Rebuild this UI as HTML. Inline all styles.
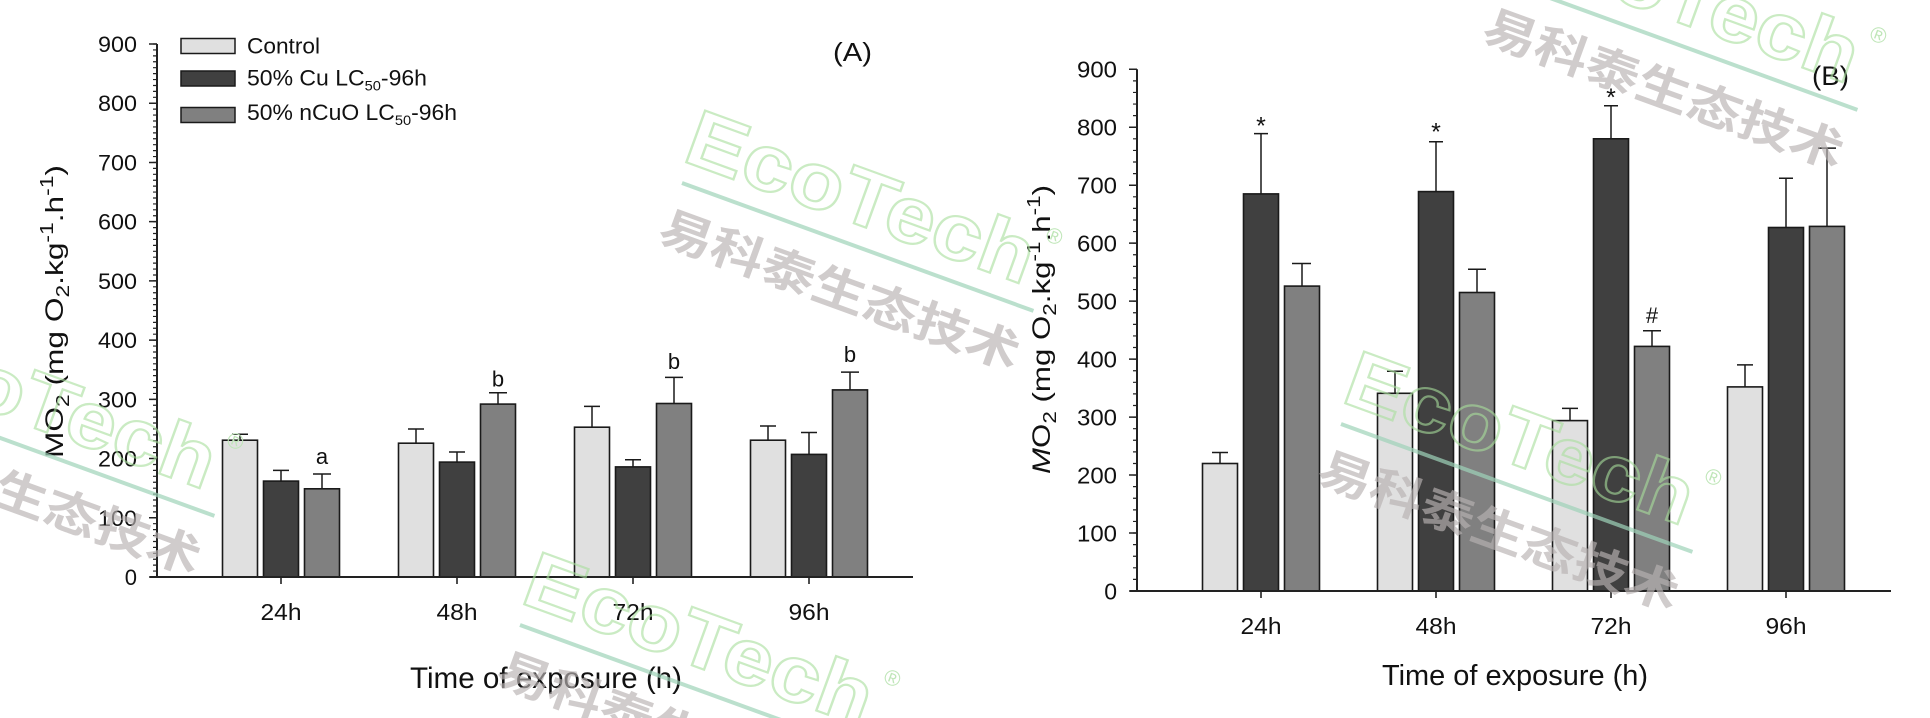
<!DOCTYPE html>
<html>
<head>
<meta charset="utf-8">
<style>
  html,body{margin:0;padding:0;background:#fff;}
  body{width:1930px;height:718px;overflow:hidden;}
  svg{display:block;}
  text{font-family:"Liberation Sans","Noto Sans CJK SC",sans-serif;fill:#111;}
  .cn{font-family:"Liberation Sans","Noto Sans CJK SC",sans-serif;}
</style>
</head>
<body>
<svg width="1930" height="718" viewBox="0 0 1930 718" xmlns="http://www.w3.org/2000/svg">
<defs><clipPath id="frame"><rect x="0" y="0" width="1930" height="718"/></clipPath></defs>
<rect x="0" y="0" width="1930" height="718" fill="#fff"/>

<!-- ================= PANEL A ================= -->
<g stroke="#1a1a1a" stroke-width="1.6">
  <rect x="222.5" y="440.2" width="35" height="136.8" fill="#e0e0e0"/>
  <rect x="263.5" y="481.1" width="35" height="95.9" fill="#404040"/>
  <rect x="304.5" y="488.8" width="35" height="88.2" fill="#808080"/>
  <rect x="398.5" y="443.2" width="35" height="133.8" fill="#e0e0e0"/>
  <rect x="439.5" y="462.1" width="35" height="114.9" fill="#404040"/>
  <rect x="480.5" y="404.1" width="35" height="172.9" fill="#808080"/>
  <rect x="574.5" y="427.2" width="35" height="149.8" fill="#e0e0e0"/>
  <rect x="615.5" y="466.9" width="35" height="110.1" fill="#404040"/>
  <rect x="656.5" y="403.5" width="35" height="173.5" fill="#808080"/>
  <rect x="750.5" y="440.2" width="35" height="136.8" fill="#e0e0e0"/>
  <rect x="791.5" y="454.4" width="35" height="122.6" fill="#404040"/>
  <rect x="832.5" y="389.9" width="35" height="187.1" fill="#808080"/>
</g>
<g stroke="#1a1a1a" stroke-width="1.5" fill="none">
  <path d="M240,440.2V434.3M232,434.3H248"/>
  <path d="M281,481.1V470.4M273,470.4H289"/>
  <path d="M322,488.8V474.0M313,474.0H331"/>
  <path d="M416,443.2V429.0M408,429.0H424"/>
  <path d="M457,462.1V452.0M449,452.0H465"/>
  <path d="M498,404.1V392.8M489,392.8H507"/>
  <path d="M592,427.2V406.4M584,406.4H600"/>
  <path d="M633,466.9V459.7M625,459.7H641"/>
  <path d="M674,403.5V377.4M665,377.4H683"/>
  <path d="M768,440.2V426.0M760,426.0H776"/>
  <path d="M809,454.4V432.5M801,432.5H817"/>
  <path d="M850,389.9V372.1M841,372.1H859"/>
</g>
<g stroke="#222" fill="none">
  <line x1="157" y1="44" x2="157" y2="578" stroke-width="2"/>
  <line x1="150" y1="577" x2="913" y2="577" stroke-width="2"/>
  <line x1="155" y1="577.6" x2="155" y2="43.4" stroke-width="4" stroke-dasharray="1.2 4.722"/>
  <line x1="153" y1="577.75" x2="153" y2="43" stroke-width="8" stroke-dasharray="1.5 57.72"/>
  <path d="M281,577V584M457,577V584M633,577V584M809,577V584" stroke-width="1.6"/>
</g>
<g font-size="22" text-anchor="end">
  <text x="137" y="52" textLength="39" lengthAdjust="spacingAndGlyphs">900</text>
  <text x="137" y="111.2" textLength="39" lengthAdjust="spacingAndGlyphs">800</text>
  <text x="137" y="170.5" textLength="39" lengthAdjust="spacingAndGlyphs">700</text>
  <text x="137" y="229.7" textLength="39" lengthAdjust="spacingAndGlyphs">600</text>
  <text x="137" y="288.9" textLength="39" lengthAdjust="spacingAndGlyphs">500</text>
  <text x="137" y="348.1" textLength="39" lengthAdjust="spacingAndGlyphs">400</text>
  <text x="137" y="407.3" textLength="39" lengthAdjust="spacingAndGlyphs">300</text>
  <text x="137" y="466.6" textLength="39" lengthAdjust="spacingAndGlyphs">200</text>
  <text x="137" y="525.8" textLength="39" lengthAdjust="spacingAndGlyphs">100</text>
  <text x="137" y="585">0</text>
</g>
<g font-size="23" text-anchor="middle">
  <text x="281" y="620" textLength="41" lengthAdjust="spacingAndGlyphs">24h</text>
  <text x="457" y="620" textLength="41" lengthAdjust="spacingAndGlyphs">48h</text>
  <text x="633" y="620" textLength="41" lengthAdjust="spacingAndGlyphs">72h</text>
  <text x="809" y="620" textLength="41" lengthAdjust="spacingAndGlyphs">96h</text>
</g>
<text x="410" y="688" font-size="30" textLength="272" lengthAdjust="spacingAndGlyphs">Time of exposure (h)</text>
<text transform="translate(63,458) rotate(-90)" font-size="25" textLength="293" lengthAdjust="spacingAndGlyphs">MO<tspan font-size="18" dy="6">2</tspan><tspan dy="-6"> (mg O</tspan><tspan font-size="18" dy="6">2</tspan><tspan dy="-6">.kg</tspan><tspan font-size="18" dy="-10">-1</tspan><tspan dy="10">.h</tspan><tspan font-size="18" dy="-10">-1</tspan><tspan dy="10">)</tspan></text>
<g font-size="22" text-anchor="middle">
  <text x="322" y="464">a</text>
  <text x="498" y="386.7">b</text>
  <text x="674" y="369.2">b</text>
  <text x="850" y="362">b</text>
</g>
<text x="833" y="61" font-size="26" textLength="39" lengthAdjust="spacingAndGlyphs">(A)</text>
<g stroke="#1a1a1a" stroke-width="1.5">
  <rect x="181" y="38.5" width="54" height="15" fill="#e0e0e0"/>
  <rect x="181" y="71" width="54" height="15" fill="#404040"/>
  <rect x="181" y="107.5" width="54" height="15" fill="#808080"/>
</g>
<g font-size="22">
  <text x="247" y="53.3" textLength="73" lengthAdjust="spacingAndGlyphs">Control</text>
  <text x="247" y="85.7" textLength="180" lengthAdjust="spacingAndGlyphs">50% Cu LC<tspan font-size="14" dy="5">50</tspan><tspan dy="-5">-96h</tspan></text>
  <text x="247" y="120" textLength="210" lengthAdjust="spacingAndGlyphs">50% nCuO LC<tspan font-size="14" dy="5">50</tspan><tspan dy="-5">-96h</tspan></text>
</g>

<!-- ================= PANEL B ================= -->
<g stroke="#1a1a1a" stroke-width="1.6">
  <rect x="1202.5" y="463.5" width="35" height="127.5" fill="#e0e0e0"/>
  <rect x="1243.5" y="193.9" width="35" height="397.1" fill="#404040"/>
  <rect x="1284.5" y="286.1" width="35" height="304.9" fill="#808080"/>
  <rect x="1377.5" y="393.3" width="35" height="197.7" fill="#e0e0e0"/>
  <rect x="1418.5" y="191.6" width="35" height="399.4" fill="#404040"/>
  <rect x="1459.5" y="292.5" width="35" height="298.5" fill="#808080"/>
  <rect x="1552.5" y="420.6" width="35" height="170.4" fill="#e0e0e0"/>
  <rect x="1593.5" y="138.8" width="35" height="452.2" fill="#404040"/>
  <rect x="1634.5" y="346.4" width="35" height="244.6" fill="#808080"/>
  <rect x="1727.5" y="386.9" width="35" height="204.1" fill="#e0e0e0"/>
  <rect x="1768.5" y="227.5" width="35" height="363.5" fill="#404040"/>
  <rect x="1809.5" y="226.4" width="35" height="364.6" fill="#808080"/>
</g>
<g stroke="#1a1a1a" stroke-width="1.5" fill="none">
  <path d="M1220,463.5V452.5M1212,452.5H1228"/>
  <path d="M1261,193.9V133.6M1254,133.6H1268"/>
  <path d="M1302,286.1V263.5M1292,263.5H1311"/>
  <path d="M1395,393.3V371.3M1387,371.3H1403"/>
  <path d="M1436,191.6V141.7M1429,141.7H1443"/>
  <path d="M1477,292.5V269.3M1468,269.3H1486"/>
  <path d="M1570,420.6V408.4M1562,408.4H1578"/>
  <path d="M1611,138.8V105.8M1604,105.8H1618"/>
  <path d="M1652,346.4V330.7M1643,330.7H1661"/>
  <path d="M1745,386.9V364.9M1737,364.9H1753"/>
  <path d="M1786,227.5V178.3M1779,178.3H1793"/>
  <path d="M1827,226.4V148.1M1818,148.1H1836"/>
</g>
<g stroke="#222" fill="none">
  <line x1="1137" y1="69.3" x2="1137" y2="592" stroke-width="2"/>
  <line x1="1130" y1="591" x2="1891" y2="591" stroke-width="2"/>
  <line x1="1135" y1="591.6" x2="1135" y2="68.6" stroke-width="4" stroke-dasharray="1.2 10.394"/>
  <line x1="1133" y1="591.75" x2="1133" y2="68.5" stroke-width="8" stroke-dasharray="1.5 56.47"/>
  <path d="M1261,591V598M1436,591V598M1611,591V598M1786,591V598" stroke-width="1.6"/>
</g>
<g font-size="23" text-anchor="end">
  <text x="1117" y="77.6" textLength="40" lengthAdjust="spacingAndGlyphs">900</text>
  <text x="1117" y="135.5" textLength="40" lengthAdjust="spacingAndGlyphs">800</text>
  <text x="1117" y="193.5" textLength="40" lengthAdjust="spacingAndGlyphs">700</text>
  <text x="1117" y="251.5" textLength="40" lengthAdjust="spacingAndGlyphs">600</text>
  <text x="1117" y="309.5" textLength="40" lengthAdjust="spacingAndGlyphs">500</text>
  <text x="1117" y="367.4" textLength="40" lengthAdjust="spacingAndGlyphs">400</text>
  <text x="1117" y="425.4" textLength="40" lengthAdjust="spacingAndGlyphs">300</text>
  <text x="1117" y="483.4" textLength="40" lengthAdjust="spacingAndGlyphs">200</text>
  <text x="1117" y="541.3" textLength="40" lengthAdjust="spacingAndGlyphs">100</text>
  <text x="1117" y="599.3">0</text>
</g>
<g font-size="23" text-anchor="middle">
  <text x="1261" y="634" textLength="41" lengthAdjust="spacingAndGlyphs">24h</text>
  <text x="1436" y="634" textLength="41" lengthAdjust="spacingAndGlyphs">48h</text>
  <text x="1611" y="634" textLength="41" lengthAdjust="spacingAndGlyphs">72h</text>
  <text x="1786" y="634" textLength="41" lengthAdjust="spacingAndGlyphs">96h</text>
</g>
<text x="1382" y="685" font-size="29" textLength="266" lengthAdjust="spacingAndGlyphs">Time of exposure (h)</text>
<text transform="translate(1050,474) rotate(-90)" font-size="25" textLength="289" lengthAdjust="spacingAndGlyphs"><tspan font-style="italic">M</tspan>O<tspan font-size="18" dy="6">2</tspan><tspan dy="-6"> (mg O</tspan><tspan font-size="18" dy="6">2</tspan><tspan dy="-6">.kg</tspan><tspan font-size="18" dy="-10">-1</tspan><tspan dy="10">.h</tspan><tspan font-size="18" dy="-10">-1</tspan><tspan dy="10">)</tspan></text>
<g font-size="25" text-anchor="middle">
  <text x="1261" y="134.5">*</text>
  <text x="1436" y="140.5">*</text>
  <text x="1611" y="106">*</text>
</g>
<text x="1652" y="323" font-size="22" text-anchor="middle">#</text>
<text x="1812" y="85" font-size="27" textLength="37" lengthAdjust="spacingAndGlyphs">(B)</text>

<!-- ================= WATERMARKS ================= -->
<g clip-path="url(#frame)">
<g transform="translate(682,183) rotate(20)">
  <line x1="0" y1="0" x2="374" y2="0" stroke="#9fd3b9" stroke-width="4" opacity="0.7"/>
  <text x="-9" y="-21" font-size="80" font-weight="bold" textLength="365" lengthAdjust="spacingAndGlyphs" style="fill:none;stroke:#a8df9c;stroke-width:2.2;opacity:0.6">EcoTech</text>
  <text x="360" y="-70" font-size="22" style="fill:#bfe6b8">®</text>
  <text class="cn" x="-5" y="63" font-size="46" font-weight="bold" textLength="380" lengthAdjust="spacingAndGlyphs" style="fill:#b8b2b2;opacity:0.66">易科泰生态技术</text>
</g>
<g transform="translate(1341,424) rotate(20)">
  <line x1="0" y1="0" x2="374" y2="0" stroke="#9fd3b9" stroke-width="4" opacity="0.7"/>
  <text x="-9" y="-21" font-size="80" font-weight="bold" textLength="365" lengthAdjust="spacingAndGlyphs" style="fill:none;stroke:#a8df9c;stroke-width:2.2;opacity:0.6">EcoTech</text>
  <text x="360" y="-70" font-size="22" style="fill:#bfe6b8">®</text>
  <text class="cn" x="-5" y="63" font-size="46" font-weight="bold" textLength="380" lengthAdjust="spacingAndGlyphs" style="fill:#b8b2b2;opacity:0.66">易科泰生态技术</text>
</g>
<g transform="translate(1506,-18) rotate(20)">
  <line x1="0" y1="0" x2="374" y2="0" stroke="#9fd3b9" stroke-width="4" opacity="0.7"/>
  <text x="-9" y="-21" font-size="80" font-weight="bold" textLength="365" lengthAdjust="spacingAndGlyphs" style="fill:none;stroke:#a8df9c;stroke-width:2.2;opacity:0.6">EcoTech</text>
  <text x="360" y="-70" font-size="22" style="fill:#bfe6b8">®</text>
  <text class="cn" x="-5" y="63" font-size="46" font-weight="bold" textLength="380" lengthAdjust="spacingAndGlyphs" style="fill:#b8b2b2;opacity:0.66">易科泰生态技术</text>
</g>
<g transform="translate(-137,388) rotate(20)">
  <line x1="0" y1="0" x2="374" y2="0" stroke="#9fd3b9" stroke-width="4" opacity="0.7"/>
  <text x="-9" y="-21" font-size="80" font-weight="bold" textLength="365" lengthAdjust="spacingAndGlyphs" style="fill:none;stroke:#a8df9c;stroke-width:2.2;opacity:0.6">EcoTech</text>
  <text x="360" y="-70" font-size="22" style="fill:#bfe6b8">®</text>
  <text class="cn" x="-5" y="63" font-size="46" font-weight="bold" textLength="380" lengthAdjust="spacingAndGlyphs" style="fill:#b8b2b2;opacity:0.66">易科泰生态技术</text>
</g>
<g transform="translate(520,625) rotate(20)">
  <line x1="0" y1="0" x2="374" y2="0" stroke="#9fd3b9" stroke-width="4" opacity="0.7"/>
  <text x="-9" y="-21" font-size="80" font-weight="bold" textLength="365" lengthAdjust="spacingAndGlyphs" style="fill:none;stroke:#a8df9c;stroke-width:2.2;opacity:0.6">EcoTech</text>
  <text x="360" y="-70" font-size="22" style="fill:#bfe6b8">®</text>
  <text class="cn" x="-5" y="63" font-size="46" font-weight="bold" textLength="380" lengthAdjust="spacingAndGlyphs" style="fill:#b8b2b2;opacity:0.66">易科泰生态技术</text>
</g>
</g>
</svg>
</body>
</html>
